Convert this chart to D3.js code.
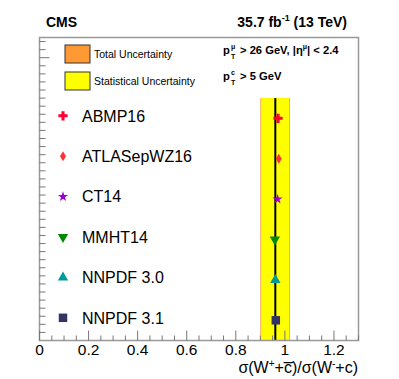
<!DOCTYPE html>
<html>
<head>
<meta charset="utf-8">
<script src="https://cdn.jsdelivr.net/npm/d3@7"></script>
<style>
  body { margin: 0; background: #fff; }
  text { font-family: "Liberation Sans", Arial, Helvetica, sans-serif; }
</style>
</head>
<body>
<div id="root"></div>
<script>
// PDF sets, drawn top to bottom
const pdfNames = ["ABMP16", "ATLASepWZ16", "CT14", "MMHT14", "NNPDF 3.0", "NNPDF 3.1"];
const pdfValues = [0.972, 0.975, 0.970, 0.959, 0.961, 0.963];
const pdfColors = ["#ff0033", "#ff3333", "#9900cc", "#008800", "#009999", "#333366"];
const pdfShapes = ["cross", "diamond", "star", "triDown", "triUp", "square"];

// measurement
const measValue = 0.961;
const statRange = [0.903, 1.018];
const totalRange = [0.900, 1.021];

const xTicks = [0, 0.2, 0.4, 0.6, 0.8, 1, 1.2];
const xTickLabels = ["0", "0.2", "0.4", "0.6", "0.8", "1", "1.2"];

const W = 399, H = 379;
const margin = { left: 39.5, right: 40.5, top: 37.5, bottom: 38.5 };

const svg = d3.select("#root")
	.append("svg")
		.attr("width", W)
		.attr("height", H);

const x = d3.scaleLinear().domain([0, 1.3]).range([margin.left, W - margin.right]);
const y = d3.scaleLinear().domain([0, 7.5]).range([H - margin.bottom, margin.top]);

// category slot i -> y value (top entry at 5.5)
const slotY = i => y(pdfNames.length - 0.5 - i);

const symbolPath = (shape) => {
	switch (shape) {
		case "cross": return d3.symbol(d3.symbolCross, 48)();
		case "diamond": return "M0,-5L3,0L0,5L-3,0Z";
		case "star": return d3.symbol(d3.symbolStar, 32)();
		case "triDown": return d3.symbol(d3.symbolTriangle, 46)();
		case "triUp": return d3.symbol(d3.symbolTriangle, 46)();
		case "square": return d3.symbol(d3.symbolSquare, 72)();
	}
};
const symbolRot = shape => shape == "triDown" ? 180 : 0;

// uncertainty bands
svg.append("rect")
	.attr("x", x(totalRange[0])).attr("y", y(6))
	.attr("width", x(totalRange[1]) - x(totalRange[0]))
	.attr("height", y(0) - y(6))
	.style("fill", "#ff9933");

svg.append("rect")
	.attr("x", x(statRange[0])).attr("y", y(6))
	.attr("width", x(statRange[1]) - x(statRange[0]))
	.attr("height", y(0) - y(6))
	.style("fill", "#ffff00");

svg.append("line")
	.attr("x1", x(measValue)).attr("x2", x(measValue))
	.attr("y1", y(6)).attr("y2", y(0))
	.style("stroke", "#000")
	.style("stroke-width", 2);

// prediction markers
svg.selectAll(".pt")
	.data(pdfValues).enter()
	.append("path")
		.attr("class", "pt")
		.attr("d", (d, i) => symbolPath(pdfShapes[i]))
		.attr("transform", (d, i) => `translate(${ x(d) }, ${ slotY(i) }) rotate(${ symbolRot(pdfShapes[i]) })`)
		.style("fill", (d, i) => pdfColors[i]);

// legend of PDF sets
const leg = svg.selectAll(".leg")
	.data(pdfNames).enter()
	.append("g")
		.attr("class", "leg")
		.attr("transform", (d, i) => `translate(0, ${ slotY(i) - 2.5 })`);

leg.append("path")
	.attr("d", (d, i) => symbolPath(pdfShapes[i]))
	.attr("transform", (d, i) => `translate(63, 0) rotate(${ symbolRot(pdfShapes[i]) })`)
	.style("fill", (d, i) => pdfColors[i]);

leg.append("text")
	.attr("x", 82).attr("y", 5.7)
	.style("font-size", "16px")
	.style("fill", "#000")
	.text(d => d);

// frame
svg.append("rect")
	.attr("x", margin.left).attr("y", margin.top)
	.attr("width", W - margin.left - margin.right)
	.attr("height", H - margin.top - margin.bottom)
	.style("fill", "none")
	.style("stroke", "#999")
	.style("stroke-width", 1.5);

// x axis ticks, drawn inward
const xMinor = d3.range(0, 1.3001, 0.05);
svg.selectAll(".xtick")
	.data(xMinor).enter()
	.append("line")
		.attr("class", "xtick")
		.attr("x1", d => x(d)).attr("x2", d => x(d))
		.attr("y1", y(0))
		.attr("y2", d => y(0) - (Math.abs(d / 0.2 - Math.round(d / 0.2)) < 1e-6 ? 10 : 5))
		.style("stroke", "#777")
		.style("stroke-width", 1);

svg.selectAll(".xlab")
	.data(xTicks).enter()
	.append("text")
		.attr("class", "xlab")
		.attr("x", d => x(d))
		.attr("y", 355)
		.attr("text-anchor", "middle")
		.style("font-size", "15.5px")
		.text((d, i) => xTickLabels[i]);

// y axis ticks
const yMinor = d3.range(0.2, 7.45, 0.2);
svg.selectAll(".ytick")
	.data(yMinor).enter()
	.append("line")
		.attr("class", "ytick")
		.attr("x1", x(0))
		.attr("x2", d => x(0) + (Math.abs(d - 7) < 1e-6 ? 10 : 6))
		.attr("y1", d => y(d)).attr("y2", d => y(d))
		.style("stroke", "#777")
		.style("stroke-width", 1);

// x axis title
const xt = svg.append("text")
	.attr("x", 358).attr("y", 373)
	.attr("text-anchor", "end")
	.style("font-size", "16px");
xt.append("tspan").text("σ(W");
xt.append("tspan").attr("dy", -6).style("font-size", "10px").text("+");
xt.append("tspan").attr("dy", 6).text("+c\u0305)/σ(W");
xt.append("tspan").attr("dy", -6).style("font-size", "10px").text("-");
xt.append("tspan").attr("dy", 6).text("+c)");

// header
svg.append("text")
	.attr("x", 46).attr("y", 27)
	.style("font-size", "14px").style("font-weight", "bold")
	.text("CMS");

const lumi = svg.append("text")
	.attr("x", 347).attr("y", 27)
	.attr("text-anchor", "end")
	.style("font-size", "14px").style("font-weight", "bold");
lumi.append("tspan").text("35.7 fb");
lumi.append("tspan").attr("dy", -6).style("font-size", "9px").text("-1");
lumi.append("tspan").attr("dy", 6).text(" (13 TeV)");

// uncertainty legend
const uncLegend = [
	{ label: "Total Uncertainty", color: "#ff9933" },
	{ label: "Statistical Uncertainty", color: "#ffff00" }
];
const ul = svg.selectAll(".ul")
	.data(uncLegend).enter()
	.append("g")
		.attr("class", "ul")
		.attr("transform", (d, i) => `translate(0, ${ 45 + i * 27 })`);
ul.append("rect")
	.attr("x", 65).attr("y", 0).attr("width", 25).attr("height", 18)
	.style("fill", d => d.color)
	.style("stroke", "#333").style("stroke-width", 1);
ul.append("text")
	.attr("x", 94).attr("y", 12.5)
	.style("font-size", "10.5px")
	.text(d => d.label);

// kinematic cuts
const cuts = [
	{ sup: "μ", rest: [["> 26 GeV, |η", 0], ["μ", 1], ["| < 2.4", 0]] },
	{ sup: "c", rest: [["> 5 GeV", 0]] }
];
cuts.forEach((c, i) => {
	const by = 54 + i * 26;
	const g = svg.append("g").style("font-weight", "bold");
	g.append("text").attr("x", 223).attr("y", by).style("font-size", "11.2px").text("p");
	g.append("text").attr("x", 231).attr("y", by - 5).style("font-size", "7px").text(c.sup);
	g.append("text").attr("x", 231).attr("y", by + 5).style("font-size", "7px").text("T");
	const t = g.append("text").attr("x", 240).attr("y", by).style("font-size", "11.2px");
	let prev = 0;
	c.rest.forEach(([s, sup]) => {
		t.append("tspan")
			.attr("dy", (sup - prev) * -5)
			.style("font-size", sup ? "7px" : "11.2px")
			.text(s);
		prev = sup;
	});
});
</script>
</body>
</html>
